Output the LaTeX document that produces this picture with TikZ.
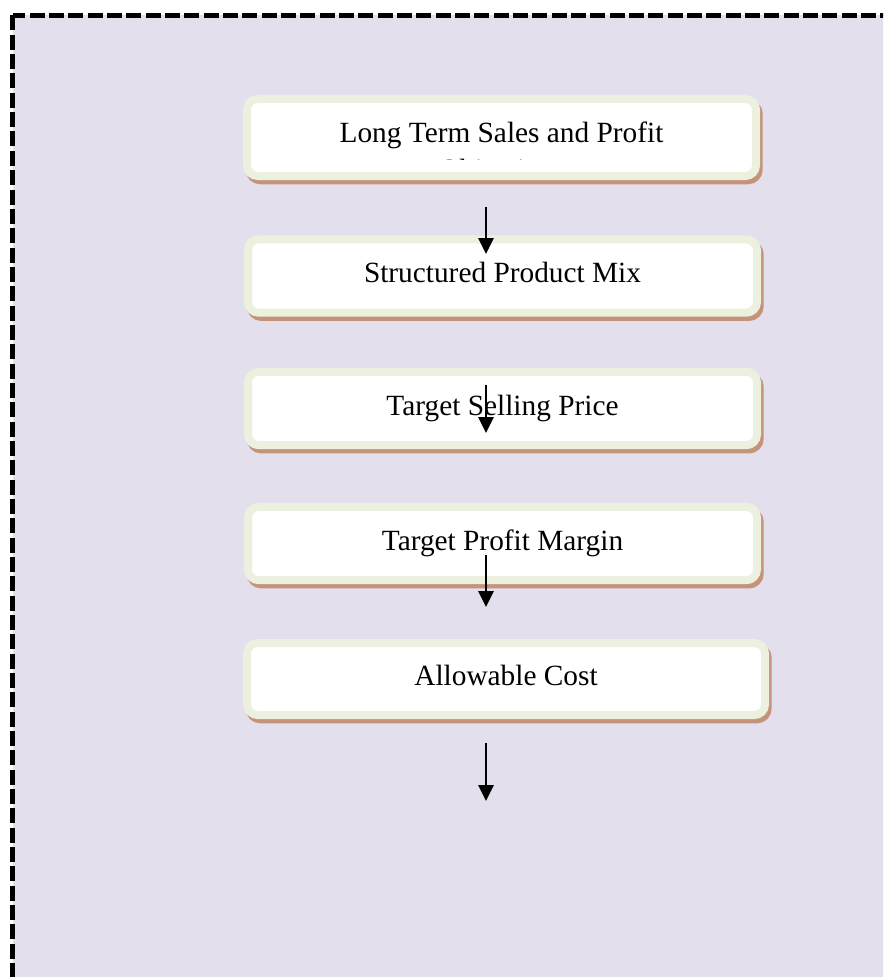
\documentclass[tikz,border=0pt]{standalone}
\usepackage{fontspec}
\setmainfont{Liberation Serif}
\usepackage{xcolor}
\usepackage{tikz}
\usetikzlibrary{arrows.meta,positioning,calc}
\definecolor{lilac}{HTML}{E4DFEC}
\definecolor{sage}{HTML}{EBF1DE}
\definecolor{clay}{HTML}{C4937A}

\begin{document}
\begin{tikzpicture}[x=0.75pt,y=-0.75pt,
frame/.style={draw=black,fill=lilac,line width=3.75pt,dash pattern=on 11.25pt off 3.25pt},
stage/.style={draw=sage,line width=6pt,fill=white,rounded corners=8pt,minimum width=381.75pt,minimum height=55pt,inner sep=0pt,font=\fontsize{22}{27.5}\selectfont,text height=15pt,text depth=5pt,
  preaction={draw=clay,fill=clay,line width=6pt,transform canvas={xshift=2pt,yshift=-3.2pt}}},
arr/.style={line width=1.6pt,-{Triangle[length=12pt,width=11.5pt]}}
]
\useasboundingbox (0,0) rectangle (883,977);
\clip (0,0) rectangle (883,977);
\draw[frame] (12.5,15.5) rectangle (900,1000);
% boxes
\node[stage,minimum height=57.75pt] (goal) at (501.5,137.5) {};
\node[stage] (mix) at (502.5,276) {Structured Product Mix};
\node[stage] (price) at (502.5,408.5) {Target Selling Price};
\node[stage] (margin) at (502.5,543.5) {Target Profit Margin};
\node[stage,minimum width=388.5pt,minimum height=54pt] (cost) at (506,679) {Allowable Cost};
% text of the first box, cut off at the bottom
\begin{scope}
\clip (250,100) rectangle (755,160);
\node[font=\fontsize{22}{27.5}\selectfont,align=center,anchor=north,inner sep=0pt] (goaltxt) at (501.5,122) {Long Term Sales and Profit\\Objectives};
\end{scope}
% arrows
\coordinate (a1s) at (486,207); \coordinate (a1e) at (486,254);
\coordinate (a2s) at (486,385); \coordinate (a2e) at (486,433);
\coordinate (a3s) at (486,555); \coordinate (a3e) at (486,607);
\coordinate (a4s) at (486,743); \coordinate (a4e) at (486,801);
\draw[arr] (a1s)--(a1e);
\draw[arr] (a2s)--(a2e);
\draw[arr] (a3s)--(a3e);
\draw[arr] (a4s)--(a4e);
\end{tikzpicture}
\end{document}
